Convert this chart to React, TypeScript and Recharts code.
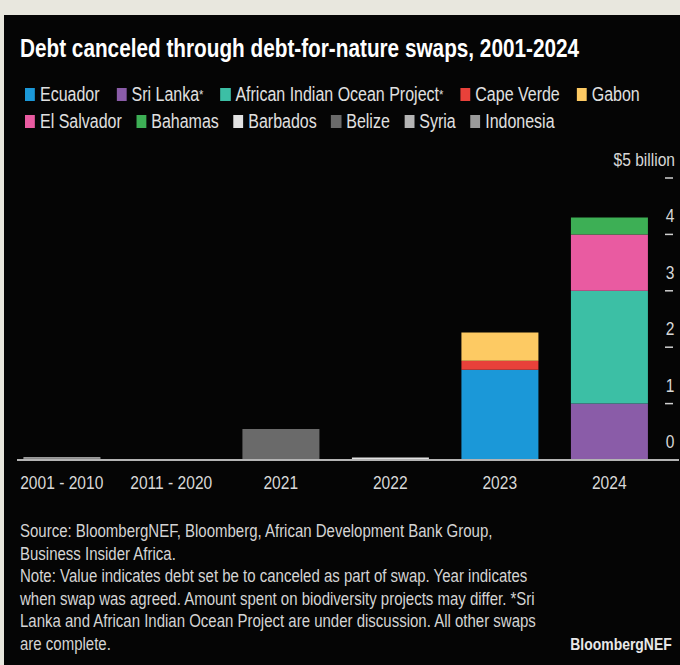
import React from "react";
import { BarChart, Bar, XAxis, YAxis, ReferenceLine } from "recharts";

const categories = ["2001 - 2010", "2011 - 2020", "2021", "2022", "2023", "2024"];

// $ billion per period
const ecuador = [0, 0, 0, 0, 1.6, 0];
const sriLanka = [0, 0, 0, 0, 0, 1.0];
const africanIOP = [0, 0, 0, 0, 0, 2.0];
const capeVerde = [0, 0, 0, 0, 0.16, 0];
const gabon = [0, 0, 0, 0, 0.5, 0];
const elSalvador = [0, 0, 0, 0, 0, 1.0];
const bahamas = [0, 0, 0, 0, 0, 0.3];
const barbados = [0, 0, 0, 0.045, 0, 0];
const belize = [0, 0, 0.55, 0, 0, 0];
const syria = [0.03, 0, 0, 0, 0, 0];
const indonesia = [0.025, 0.01, 0, 0, 0, 0];

const yTicks = [0, 1, 2, 3, 4, 5];

const series = [
  { key: "ecuador", name: "Ecuador", values: ecuador, color: "#1b98d8" },
  { key: "sriLanka", name: "Sri Lanka*", values: sriLanka, color: "#8a5ca8" },
  { key: "africanIOP", name: "African Indian Ocean Project*", values: africanIOP, color: "#3cbfa5" },
  { key: "capeVerde", name: "Cape Verde", values: capeVerde, color: "#e8413a" },
  { key: "gabon", name: "Gabon", values: gabon, color: "#fdca63" },
  { key: "elSalvador", name: "El Salvador", values: elSalvador, color: "#e95ba1" },
  { key: "bahamas", name: "Bahamas", values: bahamas, color: "#3daf55" },
  { key: "barbados", name: "Barbados", values: barbados, color: "#e2e2e2" },
  { key: "belize", name: "Belize", values: belize, color: "#6a6a6a" },
  { key: "syria", name: "Syria", values: syria, color: "#b5b5b5" },
  { key: "indonesia", name: "Indonesia", values: indonesia, color: "#9b9b9b" },
];

const data = categories.map((cat, i) => {
  const row: Record<string, string | number> = { cat };
  series.forEach((s) => (row[s.key] = s.values[i]));
  return row;
});

// no narrow face installed, so squeeze Liberation Sans horizontally
const FONT = "'Liberation Sans', Arial, sans-serif";
const SQ = 0.82;

const narrow = (left: number, top: number): React.CSSProperties => ({
  position: "absolute",
  left,
  top,
  whiteSpace: "nowrap",
  transform: `scaleX(${SQ})`,
  transformOrigin: "0 0",
});

const XTick = (props: any) => {
  const { x, y, payload } = props;
  return (
    <text
      transform={`translate(${x} ${y + 29}) scale(${SQ} 1)`}
      textAnchor="middle"
      fill="#d8d8d8"
      fontSize={19}
      fontFamily={FONT}
    >
      {payload.value}
    </text>
  );
};

const YTick = (props: any) => {
  const { x, y, payload } = props;
  const v = payload.value;
  return (
    <g>
      {v > 0 && <line x1={x + 1} x2={x + 9} y1={y} y2={y} stroke="#d0d0d0" strokeWidth={1.5} />}
      <text
        transform={`translate(${v === 5 ? x + 11 : x + 6} ${y - 12}) scale(${SQ} 1)`}
        textAnchor={v === 5 ? "end" : "middle"}
        fill="#d8d8d8"
        fontSize={19}
        fontFamily={FONT}
      >
        {v === 5 ? "$5 billion" : v}
      </text>
    </g>
  );
};

const Baseline = (props: any) => (
  <line x1={props.x1 + 15} x2={props.x2 + 10} y1={props.y1} y2={props.y2} stroke="#b4b4b4" strokeWidth={2} />
);

// small raised asterisk like the original legend
const legendLabel = (name: string) =>
  name.endsWith("*") ? (
    <>
      {name.slice(0, -1)}
      <span style={{ fontSize: "0.7em", verticalAlign: "top", lineHeight: "21px" }}>*</span>
    </>
  ) : (
    name
  );

function LegendRow({ items, top, gap }: { items: typeof series; top: number; gap: number }) {
  return (
    <div style={{ ...narrow(25, top), display: "flex", gap: gap / SQ, lineHeight: "27px", fontSize: 19.5, color: "#e0e0e0" }}>
      {items.map((s) => (
        <div key={s.key} style={{ display: "flex", alignItems: "center" }}>
          <span style={{ width: 10 / SQ, height: 13, background: s.color, marginRight: 5 / SQ, display: "inline-block" }} />
          {legendLabel(s.name)}
        </div>
      ))}
    </div>
  );
}

const notes = [
  "Source: BloombergNEF, Bloomberg, African Development Bank Group,",
  "Business Insider Africa.",
  "Note: Value indicates debt set be to canceled as part of swap. Year indicates",
  "when swap was agreed. Amount spent on biodiversity projects may differ. *Sri",
  "Lanka and African Indian Ocean Project are under discussion. All other swaps",
  "are complete.",
];

export default function App() {
  return (
    <div style={{ position: "fixed", left: 0, top: 0, width: 680, height: 665, background: "#e8e7de", overflow: "hidden", fontFamily: FONT }}>
      <div style={{ position: "absolute", left: 4, top: 15, right: 0, bottom: 0, background: "#050505" }} />
      <div style={{ ...narrow(20, 33), fontSize: 25.3, lineHeight: "30px", fontWeight: 700, color: "#fff" }}>
        Debt canceled through debt-for-nature swaps, 2001-2024
      </div>
      <LegendRow items={series.slice(0, 5)} top={81} gap={17} />
      <LegendRow items={series.slice(5)} top={108} gap={14.5} />
      <div style={{ position: "absolute", left: 0, top: 0 }}>
        <BarChart width={680} height={665} data={data} margin={{ top: 178, right: 0, bottom: 175, left: 7 }} barCategoryGap="15%">
          <XAxis dataKey="cat" axisLine={false} tickLine={false} tickSize={0} tickMargin={0} height={30} tick={<XTick />} interval={0} />
          <YAxis
            orientation="right"
            width={16}
            domain={[0, 5]}
            ticks={yTicks}
            axisLine={false}
            tickLine={false}
            tickSize={0}
            tickMargin={0}
            tick={<YTick />}
            interval={0}
          />
          {series.map((s) => (
            <Bar key={s.key} dataKey={s.key} name={s.name} stackId="a" fill={s.color} isAnimationActive={false} />
          ))}
          <ReferenceLine y={0} shape={<Baseline />} />
        </BarChart>
      </div>
      <div style={{ ...narrow(20, 520), fontSize: 18.3, lineHeight: "22.6px", color: "#d4d4d4" }}>
        {notes.map((n) => (
          <div key={n}>{n}</div>
        ))}
      </div>
      <div style={{ position: "absolute", right: 8, top: 633, whiteSpace: "nowrap", transform: `scaleX(${SQ})`, transformOrigin: "100% 0", fontSize: 17, lineHeight: "24px", fontWeight: 700, color: "#e8e8e8" }}>
        BloombergNEF
      </div>
    </div>
  );
}
